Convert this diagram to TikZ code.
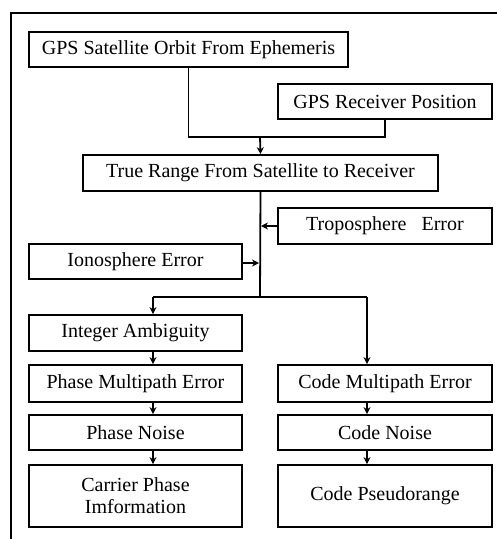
\documentclass[tikz,border=0pt]{standalone}
\usepackage{fontspec}
\setmainfont{Liberation Serif}
\usetikzlibrary{arrows.meta,calc}
\begin{document}
\begin{tikzpicture}[x=1pt,y=-1pt,
  box/.style={draw,line width=1.8pt,inner sep=0pt,align=center,font=\fontsize{20}{22}\selectfont},
  conn/.style={line width=1.8pt},
  arr/.style={line width=1.8pt,-{Stealth[length=7pt,width=7pt]}}]
\useasboundingbox (0,0) rectangle (497,539);
\draw[line width=1.8pt] (11,539) -- (11,13) -- (497,13);
\node[box,minimum width=319pt,minimum height=35pt] (orbit) at (188.5,49.5) {GPS Satellite Orbit From Ephemeris};
\node[box,minimum width=214pt,minimum height=35pt] (recv) at (385,101.5) {GPS Receiver Position};
\node[box,minimum width=355pt,minimum height=36pt] (range) at (260.5,173) {True Range From Satellite to Receiver};
\node[box,minimum width=214pt,minimum height=36pt] (tropo) at (385,226) {Troposphere\ \ \ Error};
\node[box,minimum width=213pt,minimum height=35pt] (iono) at (135.5,261.5) {Ionosphere Error};
\node[box,minimum width=213pt,minimum height=36pt] (int) at (135.5,333) {Integer Ambiguity};
\node[box,minimum width=213pt,minimum height=37pt] (pmp) at (135.5,383.5) {Phase Multipath Error};
\node[box,minimum width=214pt,minimum height=37pt] (cmp) at (385,383.5) {Code Multipath Error};
\node[box,minimum width=213pt,minimum height=35pt] (pn) at (135.5,432.5) {Phase Noise};
\node[box,minimum width=214pt,minimum height=35pt] (cn) at (385,432.5) {Code Noise};
\node[box,minimum width=213pt,minimum height=62pt] (cp) at (135.5,496) {Carrier Phase\\Imformation};
\node[box,minimum width=214pt,minimum height=62pt] (cpr) at (385,496) {Code Pseudorange};
\coordinate (j1) at (260,137);
\coordinate (j2) at (260,297);
\coordinate (jl) at (153,297);
\coordinate (jr) at (367,297);
\coordinate (tp) at (261,226);
\coordinate (ip) at (259,263);
\draw[conn] (orbit.south) |- (j1) -| (recv.south);
\draw[arr] (j1) -- (range.north);
\draw[conn] (range.south) -- (j2);
\draw[arr] (tropo.west) -- (tp);
\draw[arr] (iono.east|-ip) -- (ip);
\draw[conn] (jl) -- (jr);
\draw[arr] (jl) -- (jl|-int.north);
\draw[arr] (jr) -- (jr|-cmp.north);
\draw[arr] (jl|-int.south) -- (jl|-pmp.north);
\draw[arr] (jl|-pmp.south) -- (jl|-pn.north);
\draw[arr] (jl|-pn.south) -- (jl|-cp.north);
\draw[arr] (jr|-cmp.south) -- (jr|-cn.north);
\draw[arr] (jr|-cn.south) -- (jr|-cpr.north);
\end{tikzpicture}
\end{document}
